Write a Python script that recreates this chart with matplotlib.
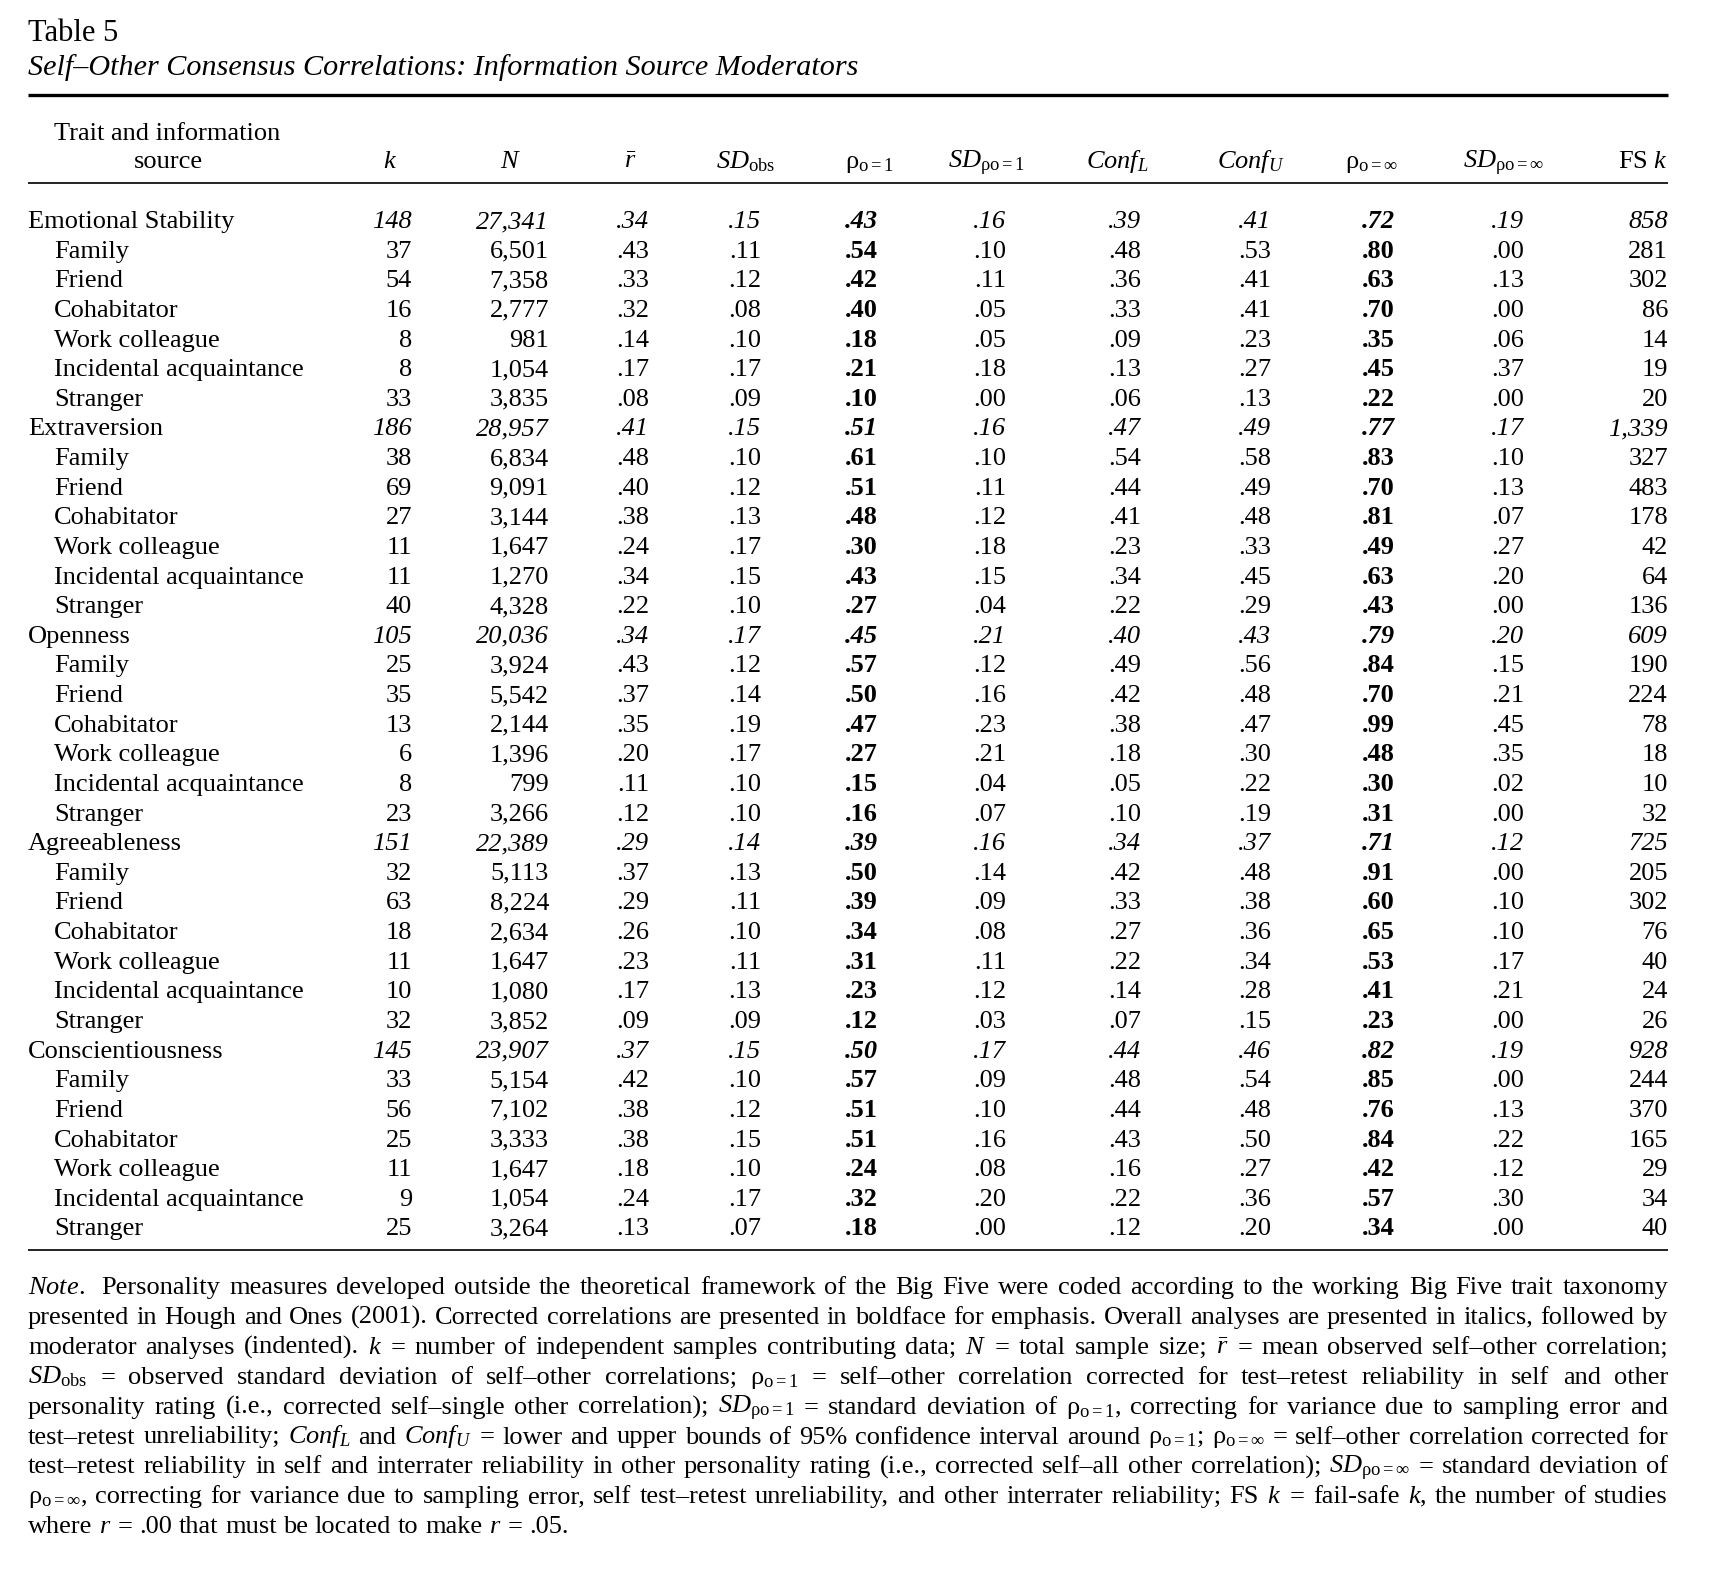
import matplotlib
matplotlib.use("Agg")
import matplotlib.pyplot as plt

# Table 5 data: 5 traits, each followed by 6 information-source rows
traits = ["Emotional Stability", "Extraversion", "Openness", "Agreeableness", "Conscientiousness"]
sources = ["Family", "Friend", "Cohabitator", "Work colleague", "Incidental acquaintance", "Stranger"]

k_vals = [148, 37, 54, 16, 8, 8, 33,
          186, 38, 69, 27, 11, 11, 40,
          105, 25, 35, 13, 6, 8, 23,
          151, 32, 63, 18, 11, 10, 32,
          145, 33, 56, 25, 11, 9, 25]
n_vals = [27341, 6501, 7358, 2777, 981, 1054, 3835,
          28957, 6834, 9091, 3144, 1647, 1270, 4328,
          20036, 3924, 5542, 2144, 1396, 799, 3266,
          22389, 5113, 8224, 2634, 1647, 1080, 3852,
          23907, 5154, 7102, 3333, 1647, 1054, 3264]
r_mean = [.34, .43, .33, .32, .14, .17, .08,
          .41, .48, .40, .38, .24, .34, .22,
          .34, .43, .37, .35, .20, .11, .12,
          .29, .37, .29, .26, .23, .17, .09,
          .37, .42, .38, .38, .18, .24, .13]
sd_obs = [.15, .11, .12, .08, .10, .17, .09,
          .15, .10, .12, .13, .17, .15, .10,
          .17, .12, .14, .19, .17, .10, .10,
          .14, .13, .11, .10, .11, .13, .09,
          .15, .10, .12, .15, .10, .17, .07]
rho_1 = [.43, .54, .42, .40, .18, .21, .10,
         .51, .61, .51, .48, .30, .43, .27,
         .45, .57, .50, .47, .27, .15, .16,
         .39, .50, .39, .34, .31, .23, .12,
         .50, .57, .51, .51, .24, .32, .18]
sd_rho_1 = [.16, .10, .11, .05, .05, .18, .00,
            .16, .10, .11, .12, .18, .15, .04,
            .21, .12, .16, .23, .21, .04, .07,
            .16, .14, .09, .08, .11, .12, .03,
            .17, .09, .10, .16, .08, .20, .00]
conf_l = [.39, .48, .36, .33, .09, .13, .06,
          .47, .54, .44, .41, .23, .34, .22,
          .40, .49, .42, .38, .18, .05, .10,
          .34, .42, .33, .27, .22, .14, .07,
          .44, .48, .44, .43, .16, .22, .12]
conf_u = [.41, .53, .41, .41, .23, .27, .13,
          .49, .58, .49, .48, .33, .45, .29,
          .43, .56, .48, .47, .30, .22, .19,
          .37, .48, .38, .36, .34, .28, .15,
          .46, .54, .48, .50, .27, .36, .20]
rho_inf = [.72, .80, .63, .70, .35, .45, .22,
           .77, .83, .70, .81, .49, .63, .43,
           .79, .84, .70, .99, .48, .30, .31,
           .71, .91, .60, .65, .53, .41, .23,
           .82, .85, .76, .84, .42, .57, .34]
sd_rho_inf = [.19, .00, .13, .00, .06, .37, .00,
              .17, .10, .13, .07, .27, .20, .00,
              .20, .15, .21, .45, .35, .02, .00,
              .12, .00, .10, .10, .17, .21, .00,
              .19, .00, .13, .22, .12, .30, .00]
fs_k = [858, 281, 302, 86, 14, 19, 20,
        1339, 327, 483, 178, 42, 64, 136,
        609, 190, 224, 78, 18, 10, 32,
        725, 205, 302, 76, 40, 24, 26,
        928, 244, 370, 165, 29, 34, 40]

headers = [r"$\mathit{k}$", r"$\mathit{N}$", r"$\bar{r}$", r"$\mathit{SD}_{\mathrm{obs}}$",
           r"ρ$_{\mathrm{o=1}}$", r"$\mathit{SD}_{\mathrm{ρo=1}}$", r"$\mathit{Conf}_{L}$",
           r"$\mathit{Conf}_{U}$", r"ρ$_{\mathrm{o=}\infty}$", r"$\mathit{SD}_{\mathrm{ρo=}\infty}$",
           r"FS $\mathit{k}$"]

note_lines = [
    r"$\mathit{Note.}$ Personality measures developed outside the theoretical framework of the Big Five were coded according to the working Big Five trait taxonomy",
    r"presented in Hough and Ones (2001). Corrected correlations are presented in boldface for emphasis. Overall analyses are presented in italics, followed by",
    r"moderator analyses (indented). $\mathit{k}$ = number of independent samples contributing data; $\mathit{N}$ = total sample size; $\bar{r}$ = mean observed self–other correlation;",
    r"$\mathit{SD}_{\mathrm{obs}}$ = observed standard deviation of self–other correlations; ρ$_{\mathrm{o=1}}$ = self–other correlation corrected for test–retest reliability in self and other",
    r"personality rating (i.e., corrected self–single other correlation); $\mathit{SD}_{\mathrm{ρo=1}}$ = standard deviation of ρ$_{\mathrm{o=1}}$, correcting for variance due to sampling error and",
    r"test–retest unreliability; $\mathit{Conf}_{L}$ and $\mathit{Conf}_{U}$ = lower and upper bounds of 95% confidence interval around ρ$_{\mathrm{o=1}}$; ρ$_{\mathrm{o=}\infty}$ = self–other correlation corrected for",
    r"test–retest reliability in self and interrater reliability in other personality rating (i.e., corrected self–all other correlation); $\mathit{SD}_{\mathrm{ρo=}\infty}$ = standard deviation of",
    r"ρ$_{\mathrm{o=}\infty}$, correcting for variance due to sampling error, self test–retest unreliability, and other interrater reliability; FS $\mathit{k}$ = fail-safe $\mathit{k}$, the number of studies",
    r"where $\mathit{r}$ = .00 that must be located to make $\mathit{r}$ = .05.",
]

plt.rcParams["font.family"] = ["Liberation Serif", "DejaVu Serif"]
plt.rcParams["mathtext.fontset"] = "custom"
plt.rcParams["mathtext.rm"] = "Liberation Serif"
plt.rcParams["mathtext.it"] = "Liberation Serif:italic"
plt.rcParams["mathtext.bf"] = "Liberation Serif:bold"

FS = 19
W, H = 1729, 1575
LEFT, RIGHT = 28, 1668

fig = plt.figure(figsize=(W / 100, H / 100), dpi=100)
ax = fig.add_axes([0, 0, 1, 1])
ax.set_xlim(0, W)
ax.set_ylim(H, 0)
ax.axis("off")
renderer = fig.canvas.get_renderer()

# title
ax.text(LEFT, 41, "Table 5", fontsize=22, va="baseline")
ax.text(LEFT, 75, "Self–Other Consensus Correlations: Information Source Moderators",
        fontsize=21.7, style="italic", va="baseline")

# rules
ax.plot([LEFT, RIGHT], [95, 95], color="black", lw=2.4, solid_capstyle="butt")
ax.plot([LEFT, RIGHT], [183, 183], color="#222222", lw=1.4, solid_capstyle="butt")
ax.plot([LEFT, RIGHT], [1250, 1250], color="#222222", lw=1.4, solid_capstyle="butt")

# header
ax.text(54, 140, "Trait and information", fontsize=FS, va="baseline")
ax.text(168, 168, "source", fontsize=FS, va="baseline", ha="center")
head_x = [390, 511, 630, 746, 869, 986, 1117, 1251, 1371, 1503, 1668]
for i, (hx, lab) in enumerate(zip(head_x, headers)):
    ha = "right" if i == len(headers) - 1 else "center"
    ax.text(hx, 168, lab, fontsize=FS, va="baseline", ha=ha)

# body
col_x = [412, 549, 649, 761, 878, 1006, 1141, 1271, 1395, 1524, 1668]
y0, step = 228, 29.63


def dec(v):
    return f"{v:.2f}"[1:]


row = 0
for t in range(len(traits)):
    labels = [traits[t]] + sources
    for j, lab in enumerate(labels):
        y = y0 + step * row
        is_trait = j == 0
        ax.text(LEFT if is_trait else 54, y, lab, fontsize=FS, va="baseline")
        cells = [str(k_vals[row]), f"{n_vals[row]:,}", dec(r_mean[row]), dec(sd_obs[row]),
                 dec(rho_1[row]), dec(sd_rho_1[row]), dec(conf_l[row]), dec(conf_u[row]),
                 dec(rho_inf[row]), dec(sd_rho_inf[row]), f"{fs_k[row]:,}"]
        for c, (cx, s) in enumerate(zip(col_x, cells)):
            bold = c in (4, 8)
            ax.text(cx, y, s, fontsize=FS, va="baseline", ha="right",
                    style="italic" if is_trait else "normal",
                    weight="bold" if bold else "normal")
        row += 1

# note, justified line by line
ny0, nstep = 1294, 29.9
for i, line in enumerate(note_lines):
    y = ny0 + nstep * i
    words = line.split(" ")
    texts = [ax.text(0, y, w, fontsize=FS, va="baseline") for w in words]
    widths = [tx.get_window_extent(renderer).width for tx in texts]
    last = i == len(note_lines) - 1
    extra = 8 if i == 0 else 0
    if last:
        gap = FS * 100 / 72 * 0.25
    else:
        gap = (RIGHT - LEFT - sum(widths) - extra) / (len(words) - 1)
    x = LEFT
    for k, (tx, w) in enumerate(zip(texts, widths)):
        tx.set_x(x)
        x += w + gap + (extra if k == 0 else 0)

fig.savefig("out.png", dpi=100)
